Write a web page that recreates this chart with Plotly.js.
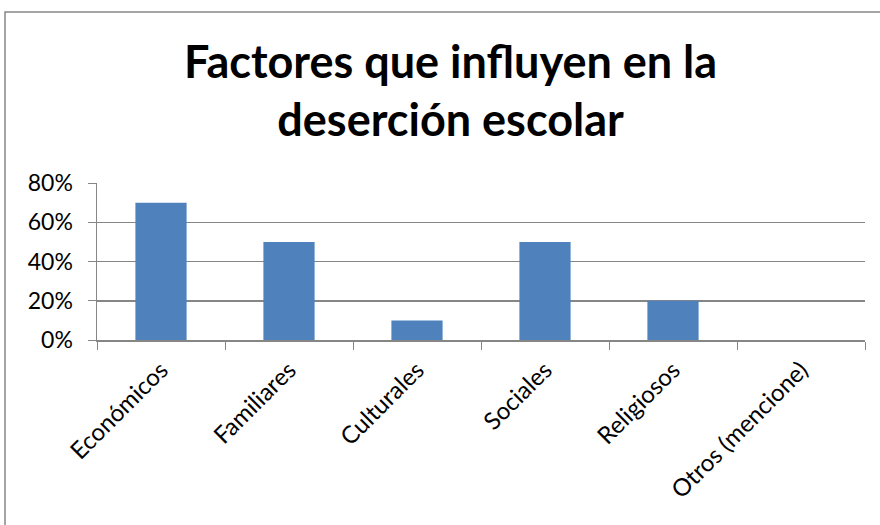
<!DOCTYPE html>
<html><head><meta charset="utf-8">
<script src="https://cdn.plot.ly/plotly-3.0.1.min.js"></script>
<style>body{margin:0;padding:0;background:#fff}#chart{width:880px;height:525px}</style>
</head><body><div id="chart"></div>
<script>
const categories = ["Económicos","Familiares","Culturales","Sociales","Religiosos","Otros (mencione)"];
const values = [0.70, 0.50, 0.10, 0.50, 0.20, 0.00];
const yTickVals = [0, 0.2, 0.4, 0.6, 0.8];
const yTickText = ["0%","20%","40%","60%","80%"];
const titleText = "Factores que influyen en la<br>deserción escolar";

const L = 97, R = 15, T = 183, B = 185, W = 880, H = 525;
const pw = W - L - R, ph = H - T - B;
const px = x => (x - L) / pw;
const py = y => (H - B - y) / ph;

Plotly.newPlot('chart', [{
  type: 'bar', x: categories, y: values,
  marker: {color: '#4F81BD'}, hoverinfo: 'none'
}], {
  width: W, height: H,
  margin: {l: L, r: R, t: T, b: B},
  paper_bgcolor: '#fff', plot_bgcolor: '#fff',
  bargap: 0.6,
  showlegend: false,
  font: {family: 'Lato, "Open Sans", sans-serif', color: '#000'},
  title: {text: titleText, font: {size: 45, family: 'Lato, sans-serif', weight: 'bold', color: '#000'},
          x: 0.512, xanchor: 'center', y: 0.852, yanchor: 'middle'},
  xaxis: {
    type: 'category', tickangle: -45, tickson: 'boundaries', ticks: 'outside', ticklen: 8,
    tickcolor: '#868686', showline: true, linecolor: '#868686', linewidth: 1.5,
    ticklabelstandoff: 5,
    showgrid: false, tickfont: {size: 24}, zeroline: false, fixedrange: true
  },
  yaxis: {
    range: [0, 0.8], tickvals: yTickVals, ticktext: yTickText,
    ticks: 'outside', ticklen: 8, tickcolor: '#868686', ticklabelstandoff: 10,
    showline: true, linecolor: '#868686', linewidth: 1.5,
    showgrid: true, gridcolor: '#868686', gridwidth: 1.5,
    zeroline: false, tickfont: {size: 23}, fixedrange: true
  },
  shapes: [{
    type: 'rect', xref: 'paper', yref: 'paper',
    x0: px(5), x1: px(890), y0: py(12), y1: py(540),
    line: {color: '#868686', width: 1.5}, fillcolor: 'rgba(0,0,0,0)', layer: 'below'
  }]
}, {displayModeBar: false, staticPlot: true});
</script></body></html>
